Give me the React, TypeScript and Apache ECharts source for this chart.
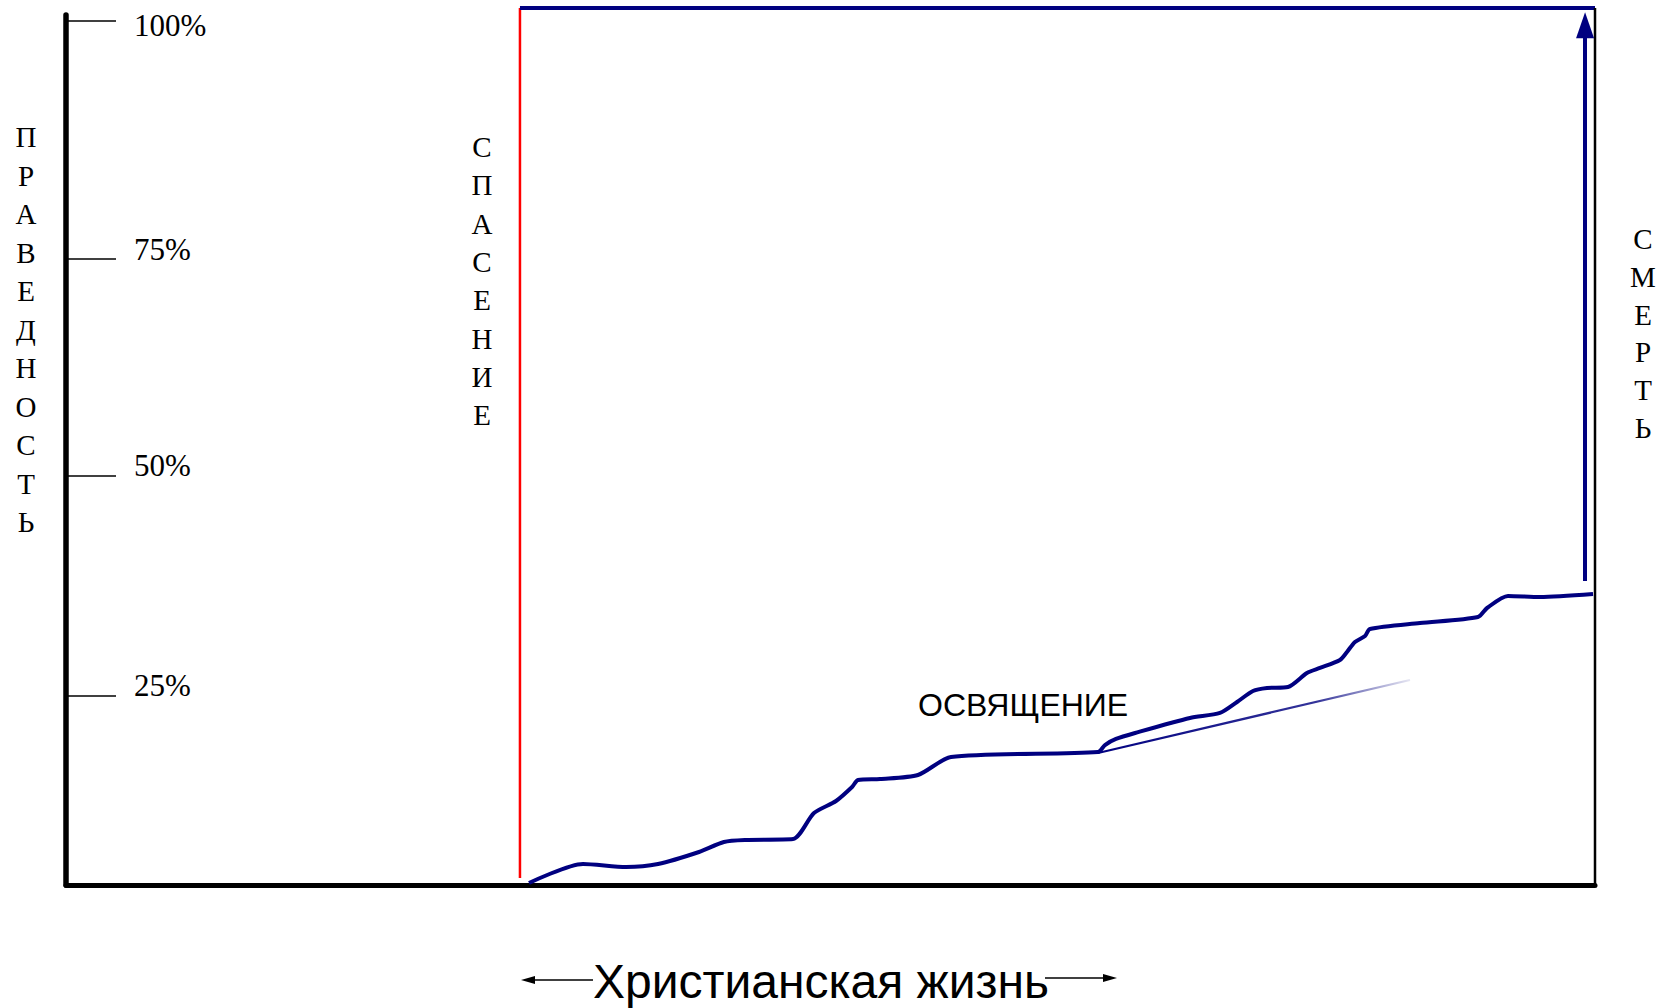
import React, { useEffect, useRef } from 'react';
import * as echarts from 'echarts';

// ---- data (x: course of a life 0..100, y: righteousness in %) ----
const tickLabels = ['25%', '50%', '75%', '100%'];
const tickLevels = [21.88, 47.34, 72.45, 100];

const salvationX = 29.69;
const deathX = 100;
const fullLevel = 101.5; // righteousness imputed at salvation (top frame)
const axisTop = 100.69;

const lifeX = [30.28, 33.81, 36.63, 38.72, 41.4, 43.03, 44.41, 47.55, 48.92, 50.36, 51.41, 51.8, 53.24, 55.72, 57.88, 67.49, 67.95, 68.67, 69.92, 73.51, 75.47, 76.59, 77.63, 78.55, 79.92, 81.16, 82.01, 83.32, 83.78, 84.3, 84.96, 85.28, 88.55, 92.35, 92.94, 94.31, 96.4, 99.87];
const lifeY = [0.23, 2.43, 2.08, 2.43, 3.82, 4.98, 5.21, 5.32, 8.33, 9.72, 11.34, 12.15, 12.27, 12.73, 14.81, 15.39, 16.2, 16.9, 17.59, 19.33, 19.91, 21.18, 22.45, 22.8, 22.92, 24.54, 25.12, 26.04, 26.97, 28.13, 28.82, 29.63, 30.32, 31.02, 32.06, 33.45, 33.33, 33.68];

const trendX = [67.49, 87.9];
const trendY = [15.28, 23.73];

const arrowX = 99.35;
const arrowFromY = 35.19;
const arrowToY = 99.5;

const yWord = 'ПРАВЕДНОСТЬ';
const salvationWord = 'СПАСЕНИЕ';
const deathWord = 'СМЕРТЬ';
const sanctificationWord = 'ОСВЯЩЕНИЕ';
const xTitle = 'Христианская жизнь';

const NAVY = '#000080';
const SERIF = '"Liberation Serif", "Times New Roman", serif';
const SANS = '"Liberation Sans", Arial, sans-serif';

const vertical = (w: string) => w.split('').join('\n');

export default function App() {
  const ref = useRef<HTMLDivElement>(null);
  useEffect(() => {
    if (!ref.current) return;
    const chart = echarts.init(ref.current, null, { renderer: 'svg' });
    const nearestLabel = (v: number) => {
      let best = 0;
      tickLevels.forEach((t, i) => {
        if (Math.abs(t - v) < Math.abs(tickLevels[best] - v)) best = i;
      });
      return best;
    };
    chart.setOption({
      animation: false,
      backgroundColor: '#fff',
      grid: { left: 66, right: 74, top: 15, bottom: 123, containLabel: false },
      xAxis: {
        type: 'value',
        min: 0,
        max: 100,
        axisLine: { show: true, onZero: false, lineStyle: { color: '#000', width: 5 } },
        axisTick: { show: false },
        axisLabel: { show: false },
        splitLine: { show: false },
      },
      yAxis: {
        type: 'value',
        min: 0,
        max: axisTop,
        axisLine: { show: true, onZero: false, lineStyle: { color: '#000', width: 5.5 } },
        axisTick: {
          show: true,
          inside: true,
          length: 50,
          customValues: tickLevels,
          lineStyle: { color: '#000', width: 1.5 },
        },
        axisLabel: {
          show: true,
          inside: true,
          margin: 68,
          customValues: tickLevels,
          formatter: (v: number) => {
            const i = nearestLabel(v);
            return i === tickLevels.length - 1 ? `{hi|${tickLabels[i]}}` : `{lo|${tickLabels[i]}}`;
          },
          rich: {
            lo: { fontFamily: SERIF, fontSize: 31, color: '#000', padding: [0, 0, 20, 0] },
            hi: { fontFamily: SERIF, fontSize: 31, color: '#000', padding: [9, 0, 0, 0] },
          },
        },
        splitLine: { show: false },
      },
      series: [
        {
          name: 'salvation',
          type: 'line',
          clip: false,
          symbol: 'none',
          data: [[salvationX, 0.81], [salvationX, fullLevel]],
          lineStyle: { color: '#ff0000', width: 2.5 },
        },
        {
          name: 'full',
          type: 'line',
          clip: false,
          symbol: 'none',
          data: [[salvationX, fullLevel], [deathX, fullLevel]],
          lineStyle: { color: NAVY, width: 4 },
        },
        {
          name: 'death',
          type: 'line',
          clip: false,
          symbol: 'none',
          data: [[deathX, 0], [deathX, fullLevel]],
          lineStyle: { color: '#000', width: 2.5 },
          markLine: {
            silent: true,
            animation: false,
            symbol: ['none', 'triangle'],
            symbolSize: [0, 1],
            label: { show: false },
            lineStyle: { color: NAVY, width: 4, type: 'solid' },
            data: [
              [
                { coord: [arrowX, arrowFromY], symbol: 'none' },
                { coord: [arrowX, arrowToY], symbol: 'triangle', symbolSize: [18, 26] },
              ],
            ],
          },
        },
        {
          name: 'trend',
          type: 'line',
          clip: false,
          symbol: 'none',
          data: trendX.map((x, i) => [x, trendY[i]]),
          lineStyle: {
            width: 2.2,
            color: new echarts.graphic.LinearGradient(0, 0, 1, 0, [
              { offset: 0, color: NAVY },
              { offset: 0.7, color: 'rgba(0,0,128,0.8)' },
              { offset: 1, color: 'rgba(0,0,128,0.1)' },
            ]),
          },
        },
        {
          name: 'life',
          type: 'line',
          clip: false,
          symbol: 'none',
          smooth: 0.25,
          data: lifeX.map((x, i) => [x, lifeY[i]]),
          lineStyle: { color: NAVY, width: 4 },
        },
      ],
      graphic: [
        {
          type: 'text',
          x: 26,
          y: 118,
          style: {
            text: vertical(yWord),
            fontFamily: SERIF,
            fontSize: 29,
            lineHeight: 38.5,
            fill: '#000',
            align: 'center',
            verticalAlign: 'top',
          },
        },
        {
          type: 'text',
          x: 482,
          y: 128,
          style: {
            text: vertical(salvationWord),
            fontFamily: SERIF,
            fontSize: 29,
            lineHeight: 38.3,
            fill: '#000',
            align: 'center',
            verticalAlign: 'top',
          },
        },
        {
          type: 'text',
          x: 1643,
          y: 220,
          style: {
            text: vertical(deathWord),
            fontFamily: SERIF,
            fontSize: 29,
            lineHeight: 37.8,
            fill: '#000',
            align: 'center',
            verticalAlign: 'top',
          },
        },
        {
          type: 'text',
          x: 918,
          y: 705,
          style: {
            text: sanctificationWord,
            fontFamily: SANS,
            fontSize: 32,
            fill: '#000',
            align: 'left',
            verticalAlign: 'middle',
          },
        },
        {
          type: 'text',
          x: 593,
          y: 981,
          style: {
            text: xTitle,
            fontFamily: SANS,
            fontSize: 48,
            fill: '#000',
            align: 'left',
            verticalAlign: 'middle',
          },
        },
        {
          type: 'line',
          shape: { x1: 593, y1: 980, x2: 532, y2: 980 },
          style: { stroke: '#000', lineWidth: 1.5 },
        },
        {
          type: 'polygon',
          shape: { points: [[521, 980], [535, 976], [535, 984]] },
          style: { fill: '#000' },
        },
        {
          type: 'line',
          shape: { x1: 1045, y1: 978, x2: 1106, y2: 978 },
          style: { stroke: '#000', lineWidth: 1.5 },
        },
        {
          type: 'polygon',
          shape: { points: [[1117, 978], [1103, 974], [1103, 982]] },
          style: { fill: '#000' },
        },
      ],
    });
    return () => chart.dispose();
  }, []);
  return (
    <div
      ref={ref}
      style={{ position: 'fixed', left: 0, top: 0, width: 1669, height: 1008, background: '#fff' }}
    />
  );
}
